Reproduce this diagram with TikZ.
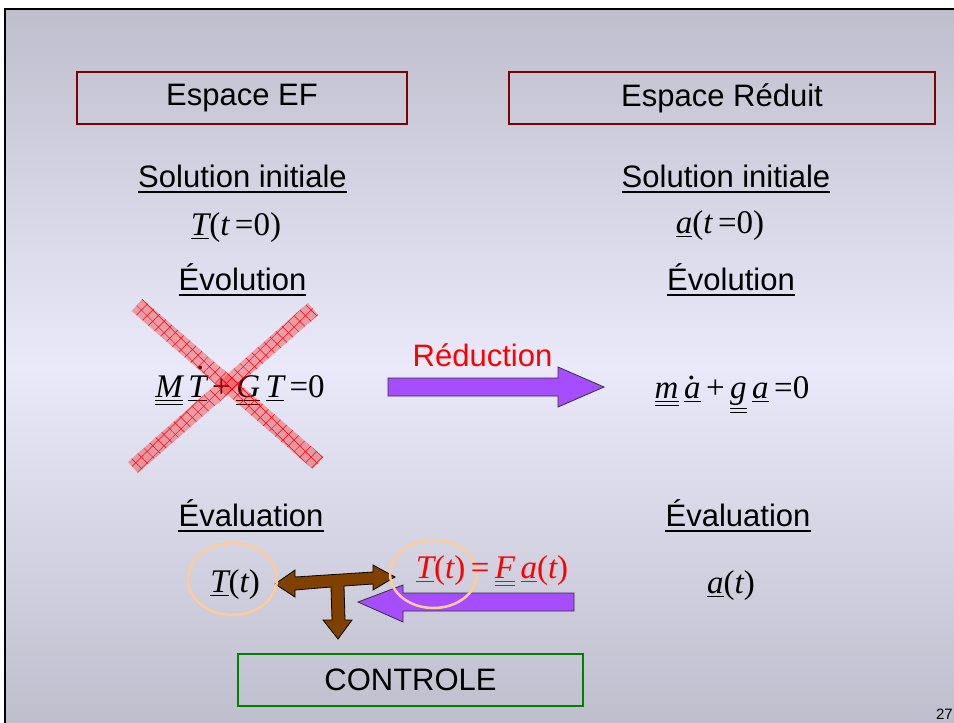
\documentclass[tikz,border=0pt]{standalone}
\usepackage{fontspec}
\setmainfont{Liberation Sans}
\newfontfamily\tms{Liberation Serif}
\usetikzlibrary{patterns.meta}
\definecolor{bgedge}{RGB}{190,190,205}
\definecolor{bgmid}{RGB}{233,233,249}
\definecolor{boxred}{RGB}{128,0,0}
\definecolor{boxgreen}{RGB}{0,128,0}
\definecolor{violetA}{RGB}{166,77,255}
\definecolor{brownA}{RGB}{128,64,0}
\definecolor{peach}{RGB}{255,204,153}
\newcommand\uv[1]{\leavevmode\vtop{\hbox{#1}\kern3pt\hrule height 1.1pt}}
\newcommand\uuv[1]{\leavevmode\vtop{\hbox{#1}\kern3pt\hrule height 1.1pt\kern2.4pt\hrule height 1.1pt}}
\newcommand\dotv[3]{\leavevmode\rlap{\kern#3\raisebox{#2}{.}}#1}
\begin{document}
\begin{tikzpicture}[x=1pt,y=-1pt,
  lbl/.style={font=\fontsize{31}{36}\selectfont, inner sep=0pt, anchor=base},
  eq/.style={font=\tms\fontsize{33}{39}\selectfont, inner sep=0pt, anchor=base},
  headbox/.style={draw=#1, line width=2.5pt, minimum height=52pt, font=\fontsize{31}{36}\selectfont, inner sep=0pt},
  blockarrow/.style={fill=violetA, draw=black!80, line width=0.8pt, line join=miter},
  brownarrow/.style={fill=brownA, draw=black, line width=0.8pt, line join=miter},
  ring/.style={draw=peach, line width=2.5pt},
  ulineA/.style={line width=2.6pt}]
\useasboundingbox (0,0) rectangle (954,723);
\fill[white] (0,0) rectangle (954,723);
\shade[top color=bgedge, bottom color=bgmid] (5,9) rectangle (954,366);
\shade[top color=bgmid, bottom color=bgedge] (5,366) rectangle (954,723);
\draw[line width=2.2pt] (5,724) -- (5,9) -- (955,9);

% header boxes
\node[headbox=boxred, minimum width=330pt] (ef) at (242,98) {Espace EF};
\node[headbox=boxred, minimum width=426pt] (er) at (722,98) {Espace Réduit};
\node[headbox=boxgreen, minimum width=345pt] (ctrl) at (410.5,680) {CONTROLE};

% section titles
\node[lbl] (siL) at (242.5,187) {Solution initiale};
\node[lbl] (siR) at (726,187) {Solution initiale};
\node[lbl] (evL) at (242.5,290) {Évolution};
\node[lbl] (evR) at (731,290) {Évolution};
\node[lbl] (vaL) at (251,526) {Évaluation};
\node[lbl] (vaR) at (738,526) {Évaluation};
\foreach \n in {siL,siR,evL,evR,vaL,vaR}
  \draw[ulineA] ([yshift=-5pt]\n.base west) -- ([yshift=-5pt]\n.base east);

% equations
\node[eq] (t0) at (236,235) {\uv{\itshape T}(\itshape t\upshape\,=0)};
\node[eq] (a0) at (720,233) {\uv{\itshape a}(\itshape t\upshape\,=0)};
\node[eq] (eqEF) at (240,397) {\uuv{\itshape M}\,\uv{\itshape\dotv{T}{28pt}{8.5pt}}\,+\,\uuv{\itshape G}\,\uv{\itshape T}\,=0};
\node[eq] (eqR) at (732,398) {\uuv{\itshape m}\,\uv{\itshape\dotv{a}{19pt}{4pt}}\,+\,\uuv{\itshape g}\,\uv{\itshape a}\,=0};

% reduction arrow
\filldraw[blockarrow] (388,378) -- (558,378) -- (558,367) -- (604,387) -- (558,407) -- (558,396) -- (388,396) -- cycle;
\node[lbl, text=red] (red) at (482.5,366) {Réduction};

% red cross
\foreach \pts in {{(142.3,299) -- (131.7,311) -- (312.7,469) -- (323.3,457) -- cycle},
                  {(308,303) -- (318,315) -- (138,473) -- (128,462) -- cycle}}{
  \fill[red, fill opacity=0.32] \pts;
  \fill[pattern={Lines[angle=45,distance=8pt,line width=0.5pt]}, pattern color=red] \pts;
  \fill[pattern={Lines[angle=-45,distance=8pt,line width=0.5pt]}, pattern color=red] \pts;
}

% bottom arrows
\filldraw[blockarrow] (574,593) -- (403,593) -- (403,585) -- (358,602) -- (403,622) -- (403,611) -- (574,611) -- cycle;
\filldraw[brownarrow] (275,584) -- (295,570) -- (295,577) -- (373,572) -- (373,565) -- (395,577)
  -- (373,590) -- (373,584) -- (344,586) -- (345,620) -- (352,620) -- (338,639) -- (323,620)
  -- (332,620) -- (331,587) -- (295,590) -- (295,597) -- cycle;

% rings
\draw[ring] (232.5,579) ellipse [x radius=44.5pt, y radius=36pt];
\draw[ring] (433.5,574) ellipse [x radius=43.5pt, y radius=34pt];

% evaluation equations
\node[eq] (tL) at (235,592) {\uv{\itshape T}(\itshape t\upshape)};
\node[eq, text=red] (tF) at (492,578) {\uv{\itshape T}(\itshape t\upshape)\,=\,\uuv{\itshape F}\,\uv{\itshape a}(\itshape t\upshape)};
\node[eq] (aR) at (731,593) {\uv{\itshape a}(\itshape t\upshape)};

\node[font=\fontsize{15}{18}\selectfont, inner sep=0pt, anchor=base east] (pg) at (953,719) {27};
\end{tikzpicture}
\end{document}
